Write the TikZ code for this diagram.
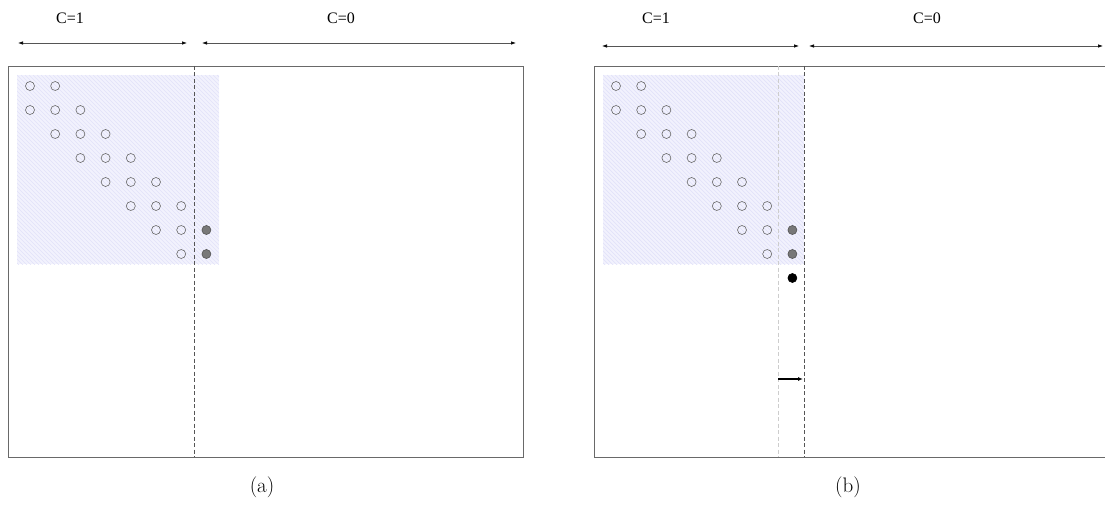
\documentclass[tikz,border=0pt]{standalone}
\usepackage{fontspec}
\newfontfamily\timesfont{Liberation Serif}
\usetikzlibrary{arrows.meta}

\definecolor{blockfill}{RGB}{242,242,253}
\definecolor{blockhatch}{RGB}{226,226,249}
\definecolor{frame}{RGB}{105,105,105}
\definecolor{cutgray}{RGB}{85,85,85}
\definecolor{oldcutgray}{RGB}{205,205,205}
\definecolor{dotgray}{RGB}{120,120,120}

\begin{document}
\begin{tikzpicture}[x=1pt,y=-1pt,
  dot/.style={circle,draw=frame,inner sep=0pt,minimum size=9pt,line width=0.6pt},
  fulldot/.style={dot,draw=cutgray,fill=dotgray},
  blackdot/.style={dot,draw=black,fill=black},
  panel/.style={draw=frame,line width=0.9pt},
  hatchline/.style={draw=blockhatch,line width=0.7pt},
  cutline/.style={draw=cutgray,line width=0.8pt,dash pattern=on 4pt off 2.5pt},
  oldcutline/.style={draw=oldcutgray,line width=0.8pt,dash pattern=on 4pt off 2.5pt},
  span/.style={draw=cutgray,line width=0.7pt,{Latex[length=5pt,width=3.5pt,color=black]}-{Latex[length=5pt,width=3.5pt,color=black]}},
  movearrow/.style={draw=black,line width=1.3pt,-{Latex[length=5pt,width=4pt]}},
  clabel/.style={font=\timesfont\fontsize{16}{19}\selectfont},
  caption/.style={font=\fontsize{21}{25}\selectfont}]
\useasboundingbox (0,0) rectangle (1105,505);

% hatched block of the first class
\newcommand{\hatchblock}[2]{%
  \fill[blockfill] (#1,75) rectangle (#2,264);
  \begin{scope}
    \clip (#1,75) rectangle (#2,264);
    \foreach \k in {-200,-196,...,210} {
      \draw[hatchline] ({#1+\k},75) -- ({#1+\k+200},275);
    }
  \end{scope}}

% ---------------- panel (a) ----------------
\hatchblock{17}{219}
\draw[panel] (8,66) rectangle (523,457);
\coordinate (a-cut-top) at (194,66);
\coordinate (a-cut-bot) at (194,457);
\draw[cutline] (a-cut-top) -- (a-cut-bot);

\foreach \r/\cols in {0/{0,1},1/{0,1,2},2/{1,2,3},3/{2,3,4},4/{3,4,5},5/{4,5,6},6/{5,6},7/{6}}{
  \foreach \c in \cols {
    \node[dot] (a-\r-\c) at ({30+25.2*\c},{86+24*\r}) {};
  }
}
\node[fulldot] (a-6-7) at ({30+25.2*7},{86+24*6}) {};
\node[fulldot] (a-7-7) at ({30+25.2*7},{86+24*7}) {};

\node[clabel] (a-one) at (70,18) {C=1};
\node[clabel] (a-zero) at (341,18) {C=0};
\coordinate (a-one-l) at (18,43);
\coordinate (a-one-r) at (187,43);
\coordinate (a-zero-l) at (202,43);
\coordinate (a-zero-r) at (516,43);
\draw[span] (a-one-l) -- (a-one-r);
\draw[span] (a-zero-l) -- (a-zero-r);

\node[caption] (a-cap) at (262,487) {(a)};

% ---------------- panel (b) ----------------
\begin{scope}[xshift=586pt]
\hatchblock{17}{218}
\draw[panel] (530,66) -- (8,66) -- (8,457) -- (530,457);
\coordinate (b-old-top) at (192,66);
\coordinate (b-old-bot) at (192,457);
\coordinate (b-cut-top) at (218,66);
\coordinate (b-cut-bot) at (218,457);
\draw[oldcutline] (b-old-top) -- (b-old-bot);
\draw[cutline] (b-cut-top) -- (b-cut-bot);

\foreach \r/\cols in {0/{0,1},1/{0,1,2},2/{1,2,3},3/{2,3,4},4/{3,4,5},5/{4,5,6},6/{5,6},7/{6}}{
  \foreach \c in \cols {
    \node[dot] (b-\r-\c) at ({30+25.2*\c},{86+24*\r}) {};
  }
}
\node[fulldot] (b-6-7) at ({30+25.2*7},{86+24*6}) {};
\node[fulldot] (b-7-7) at ({30+25.2*7},{86+24*7}) {};
\node[blackdot] (b-8-7) at ({30+25.2*7},{86+24*8}) {};

\coordinate (b-move-l) at (192,379);
\coordinate (b-move-r) at (217,379);
\draw[movearrow] (b-move-l) -- (b-move-r);

\node[clabel] (b-one) at (70,18) {C=1};
\node[clabel] (b-zero) at (341,18) {C=0};
\coordinate (b-one-l) at (16,46);
\coordinate (b-one-r) at (213,46);
\coordinate (b-zero-l) at (223,46);
\coordinate (b-zero-r) at (517,46);
\draw[span] (b-one-l) -- (b-one-r);
\draw[span] (b-zero-l) -- (b-zero-r);

\node[caption] (b-cap) at (262,487) {(b)};
\end{scope}
\end{tikzpicture}
\end{document}
